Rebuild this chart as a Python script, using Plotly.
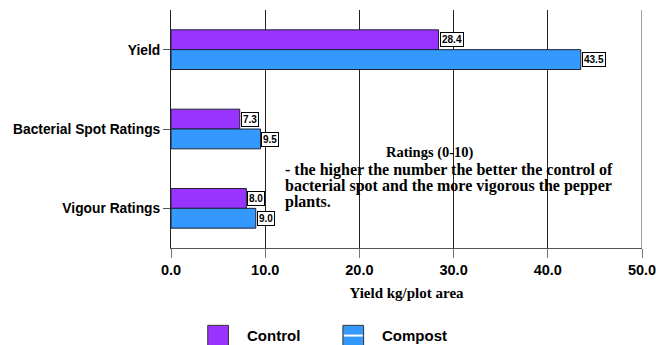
import plotly.graph_objects as go

# Pepper trial results: control vs compost
categories = ["Yield", "Bacterial Spot Ratings", "Vigour Ratings"]
series_names = ["Control", "Compost"]
control_values = [28.4, 7.3, 8.0]
compost_values = [43.5, 9.5, 9.0]
series_colors = ["#9933FF", "#3399FF"]
x_tick_values = [0, 10, 20, 30, 40, 50]

note_title = "Ratings (0-10)"
note_lines = [
    "- the higher the number the better the control of",
    "bacterial spot and the more vigorous the pepper",
    "plants.",
]

SANS = "Liberation Sans, Arial, sans-serif"
SERIF = "Liberation Serif, Times New Roman, serif"

fig = go.Figure()
for name, vals, color in zip(series_names, [control_values, compost_values], series_colors):
    fig.add_trace(go.Bar(
        y=categories, x=vals, name=name, orientation="h",
        marker=dict(color=color, line=dict(color="#1c2233", width=1)),
        showlegend=False,
    ))

# Value boxes at the end of each bar
for vals, shift in [(control_values, 10), (compost_values, -10)]:
    for cat, v in zip(categories, vals):
        fig.add_annotation(
            x=v, y=cat, xref="x", yref="y", text=f"{v:.1f}",
            showarrow=False, xanchor="left", yanchor="middle", yshift=shift, xshift=1,
            font=dict(family=SANS, size=10, color="black", weight="bold"),
            bgcolor="white", bordercolor="black", borderwidth=1, borderpad=1,
        )

# Right-hand frame line at the last tick
fig.add_shape(type="line", xref="x", yref="paper",
              x0=x_tick_values[-1], x1=x_tick_values[-1], y0=0, y1=1,
              line=dict(color="#808080", width=1.5), layer="below")

# Note on the rating scale
fig.add_annotation(
    x=0.55, y=0.403, xref="paper", yref="paper", text=note_title,
    showarrow=False, xanchor="center", yanchor="middle",
    font=dict(family=SERIF, size=14.5, color="black", weight="bold"),
)
for line, ly in zip(note_lines, [0.328, 0.261, 0.195]):
    fig.add_annotation(
        x=0.237, y=ly, xref="paper", yref="paper", text=line,
        showarrow=False, xanchor="left", yanchor="middle",
        font=dict(family=SERIF, size=16, color="black", weight="bold"),
    )

# Legend drawn below the chart
legend_x = [0.078, 0.365]
for name, color, lx in zip(series_names, series_colors, legend_x):
    fig.add_shape(type="rect", xref="paper", yref="paper",
                  x0=lx, x1=lx + 0.044, y0=-0.41, y1=-0.325,
                  fillcolor=color, line=dict(color="#333", width=1))
    fig.add_annotation(x=lx + 0.079, y=-0.366, xref="paper", yref="paper",
                       text=name, showarrow=False,
                       xanchor="left", yanchor="middle",
                       font=dict(family=SANS, size=15, color="black", weight="bold"))
# White stripe across the compost swatch
fig.add_shape(type="line", xref="paper", yref="paper",
              x0=legend_x[1] + 0.002, x1=legend_x[1] + 0.042, y0=-0.368, y1=-0.368,
              line=dict(color="white", width=2))

fig.update_layout(
    width=656, height=345,
    margin=dict(l=171, r=14, t=10, b=97),
    plot_bgcolor="white", paper_bgcolor="white",
    barmode="group", bargap=0.5, bargroupgap=0,
    xaxis=dict(
        range=[0, 50], tickvals=x_tick_values,
        ticktext=[f"{v:.1f}" for v in x_tick_values],
        automargin=False, ticklabeloverflow="allow",
        showgrid=True, gridcolor="#222", gridwidth=1,
        showline=True, linecolor="#555", linewidth=1,
        ticks="outside", ticklen=9, tickcolor="#777",
        tickfont=dict(family=SANS, size=14.5, color="black", weight="bold"),
        zeroline=False,
        title=dict(text="Yield kg/plot area", standoff=10,
                   font=dict(family=SERIF, size=15, color="black", weight="bold")),
    ),
    yaxis=dict(
        autorange="reversed", showgrid=False,
        showline=True, linecolor="#222", linewidth=1,
        ticks="outside", ticklen=7, tickcolor="#555",
        tickfont=dict(family=SANS, size=13.8, color="black", weight="bold"),
    ),
)

fig.write_html("out.html")
